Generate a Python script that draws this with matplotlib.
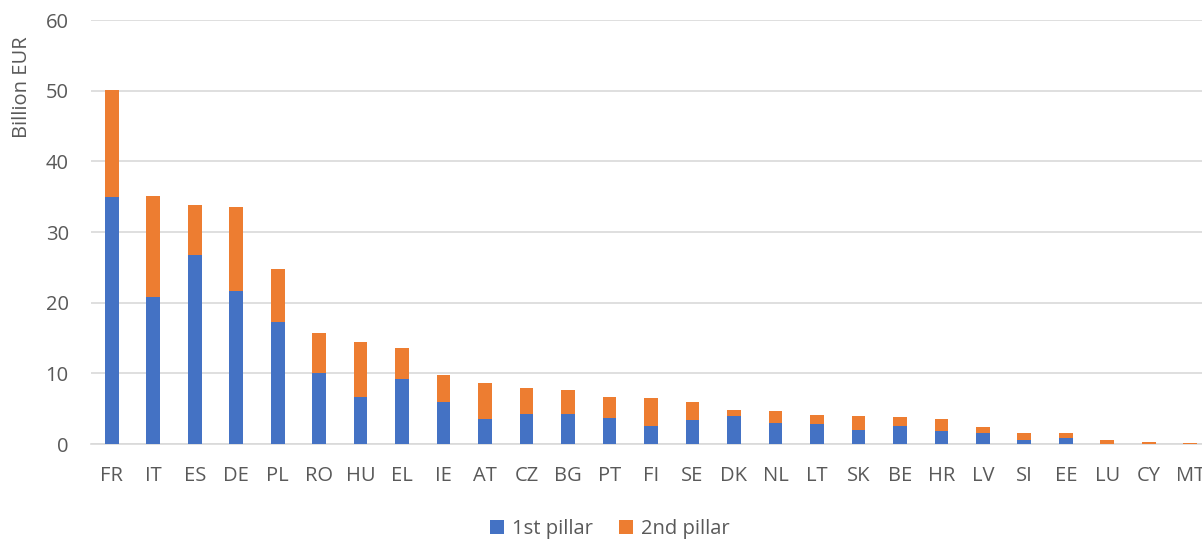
import numpy as np
import matplotlib
matplotlib.use("Agg")
import matplotlib.pyplot as plt

countries = ["FR", "IT", "ES", "DE", "PL", "RO", "HU", "EL", "IE", "AT", "CZ", "BG", "PT", "FI",
             "SE", "DK", "NL", "LT", "SK", "BE", "HR", "LV", "SI", "EE", "LU", "CY", "MT"]
pillar1 = [35.0, 20.8, 26.7, 21.6, 17.3, 10.0, 6.7, 9.2, 5.9, 3.5, 4.2, 4.2, 3.7, 2.6,
           3.4, 4.0, 3.0, 2.9, 2.0, 2.6, 1.8, 1.6, 0.5, 0.8, 0.03, 0.05, 0.05]
totals = [50.1, 35.1, 33.8, 33.5, 24.8, 15.7, 14.4, 13.6, 9.8, 8.6, 7.9, 7.6, 6.6, 6.5,
          6.0, 4.8, 4.7, 4.15, 4.0, 3.8, 3.5, 2.4, 1.6, 1.5, 0.5, 0.35, 0.1]
pillar2 = [t - p for t, p in zip(totals, pillar1)]
yticks = [0, 10, 20, 30, 40, 50, 60]

BLUE, ORANGE, GRID, TXT = "#4472C4", "#ED7D31", "#D9D9D9", "#595959"
plt.rcParams["font.family"] = ["Open Sans", "DejaVu Sans"]
FS = 14.5

W, H = 1202, 539
fig = plt.figure(figsize=(W / 100, H / 100), dpi=100)
# plot area runs past the right edge (MT label is cut off in the original)
ax = fig.add_axes([91 / W, (H - 444) / H, 1120 / W, 424 / H])

x = np.arange(len(countries))
ax.bar(x, pillar1, width=0.33, color=BLUE, label="1st pillar", zorder=3)
ax.bar(x, pillar2, width=0.33, bottom=pillar1, color=ORANGE, label="2nd pillar", zorder=3)

ax.set_xlim(-0.5, len(countries) - 0.5)
ax.set_ylim(0, 60)
ax.set_yticks(yticks)
ax.set_xticks(x)
ax.set_xticklabels(countries)
ax.grid(axis="y", color=GRID, lw=1.2, zorder=0)
for s in ["top", "right", "left"]:
    ax.spines[s].set_visible(False)
ax.spines["bottom"].set_color(GRID)
ax.spines["bottom"].set_linewidth(1.2)
ax.tick_params(axis="both", length=0, labelsize=FS, colors=TXT)
ax.tick_params(axis="x", pad=16)
ax.tick_params(axis="y", pad=16)

fig.text(22 / W, 1 - 87 / H, "Billion EUR", rotation=90, ha="center", va="center",
         fontsize=FS, color=TXT)

fig.legend(loc="center", bbox_to_anchor=(610 / W, 10 / H), ncol=2, frameon=False,
           fontsize=FS, labelcolor=TXT, handlelength=0.7, handleheight=0.7,
           handletextpad=0.4, columnspacing=1.3)

fig.savefig("out.png", dpi=100)
